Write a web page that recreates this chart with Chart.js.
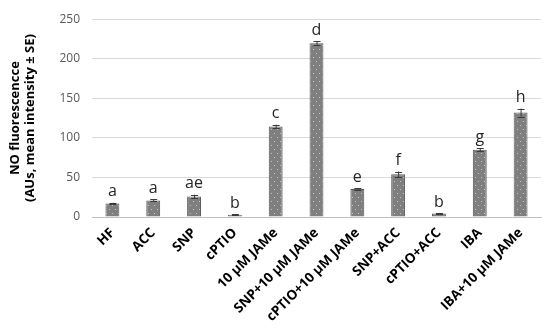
<!DOCTYPE html>
<html>
<head>
<meta charset="utf-8">
<script src="https://cdn.jsdelivr.net/npm/chart.js@4.4.0/dist/chart.umd.min.js"></script>
<style>
  html, body { margin: 0; padding: 0; background: #ffffff; }
  #wrap { width: 550px; height: 335px; position: relative; }
</style>
</head>
<body>
<div id="wrap"><canvas id="noChart"></canvas></div>
<script>
// Data
const categories = ['HF', 'ACC', 'SNP', 'cPTIO', '10 µM JAMe', 'SNP+10 µM JAMe',
  'cPTIO+10 µM JAMe', 'SNP+ACC', 'cPTIO+ACC', 'IBA', 'IBA+10 µM JAMe'];
const meanValues = [17, 21, 26, 3, 114.5, 219.5, 35.5, 54, 4.5, 85, 132];
const seValues = [1, 1.2, 2.2, 0.6, 2.2, 2.5, 1, 3.5, 0.6, 2, 5];
const letters = ['a', 'a', 'ae', 'b', 'c', 'd', 'e', 'f', 'b', 'g', 'h'];
const yTicks = [0, 50, 100, 150, 200, 250];

// dotted grey fill like the original
function dotPattern() {
  const c = document.createElement('canvas');
  c.width = 6; c.height = 8;
  const g = c.getContext('2d');
  g.fillStyle = '#7f7f7f';
  g.fillRect(0, 0, 6, 8);
  g.fillStyle = '#c4c4c4';
  g.fillRect(1, 1, 1, 1);
  g.fillRect(4, 5, 1, 1);
  return g.createPattern(c, 'repeat');
}

// error bars + significance letters
const annotations = {
  id: 'annotations',
  afterDatasetsDraw(chart) {
    const ctx = chart.ctx;
    const y = chart.scales.y;
    const meta = chart.getDatasetMeta(0);
    ctx.save();
    meta.data.forEach((bar, i) => {
      const x = bar.x;
      const top = y.getPixelForValue(meanValues[i] + seValues[i]);
      const bot = y.getPixelForValue(meanValues[i] - seValues[i]);
      ctx.strokeStyle = '#3a3a3a';
      ctx.lineWidth = 1;
      ctx.beginPath();
      ctx.moveTo(x + 0.5, top); ctx.lineTo(x + 0.5, bot);
      ctx.moveTo(x - 3, Math.round(top) + 0.5); ctx.lineTo(x + 4, Math.round(top) + 0.5);
      ctx.moveTo(x - 3, Math.round(bot) + 0.5); ctx.lineTo(x + 4, Math.round(bot) + 0.5);
      ctx.stroke();
      ctx.fillStyle = '#262626';
      ctx.font = '16px "Open Sans", "Liberation Sans", sans-serif';
      ctx.textAlign = 'center';
      ctx.textBaseline = 'bottom';
      ctx.fillText(letters[i], x, top - 3);
    });
    ctx.restore();
  }
};

new Chart(document.getElementById('noChart'), {
  type: 'bar',
  data: {
    labels: categories,
    datasets: [{
      data: meanValues,
      backgroundColor: dotPattern(),
      borderColor: '#5a5a5a',
      borderWidth: 1,
      categoryPercentage: 1,
      barPercentage: 0.34
    }]
  },
  options: {
    responsive: true,
    maintainAspectRatio: false,
    animation: false,
    layout: { padding: { top: 14, right: 9, left: 8, bottom: 0 } },
    plugins: { legend: { display: false }, tooltip: { enabled: false } },
    scales: {
      x: {
        grid: { display: false, drawTicks: false },
        border: { color: '#bfbfbf', width: 1 },
        ticks: {
          color: '#000000',
          font: { family: '"Open Sans", "Liberation Sans", sans-serif', size: 13.5, weight: 'bold' },
          minRotation: 45, maxRotation: 45, padding: 8, autoSkip: false
        },
        afterFit: s => { s.height = 118; }
      },
      y: {
        min: 0, max: 250,
        afterBuildTicks: s => { s.ticks = yTicks.map(v => ({ value: v })); },
        grid: { color: '#d9d9d9', drawTicks: false },
        border: { display: false },
        ticks: {
          color: '#595959', padding: 12,
          font: { family: '"Open Sans", "Liberation Sans", sans-serif', size: 12 }
        },
        title: {
          display: true,
          text: ['NO fluorescencce', '(AUs, mean intensity ± SE)'],
          color: '#000000',
          font: { family: '"Open Sans", "Liberation Sans", sans-serif', size: 13, weight: 'bold', lineHeight: 1.15 },
          padding: { top: 0, bottom: 2 }
        },
        afterFit: s => { s.width = 84; }
      }
    }
  },
  plugins: [annotations]
});
</script>
</body>
</html>
